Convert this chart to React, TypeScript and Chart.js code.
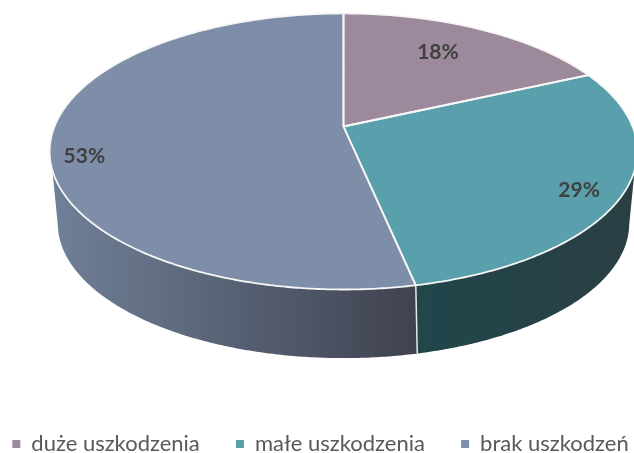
import React, { useEffect, useRef } from "react";
import { Chart, registerables } from "chart.js";

Chart.register(...registerables);

const categories = ["duże uszkodzenia", "małe uszkodzenia", "brak uszkodzeń"];
const shares = [18.2, 28.5, 53.3];
const topColors = ["#9c8a9c", "#5a9fac", "#7e8ea8"];
const wallLeftColors = ["#5a4f5a", "#21464b", "#6f7f97"];
const wallRightColors = ["#5a4f5a", "#2a3f44", "#3f424f"];
const labelRadii = [0.72, 0.85, 0.89];
const labelShiftX = [-7, 0, 1];
const labelShiftY = [-1, 9, 17];
const legendGap = "     ";

const DEG = Math.PI / 180;
const K = 0.181;
const BOTTOM_TWIST = 0.6 * DEG;
type Disc = { cx: number; cy: number; X: number; A: number };
const TOP: Disc = { cx: 343.5, cy: 126.5, X: 289, A: 133.5 };
const BOTTOM: Disc = { cx: 343.5, cy: 199, X: 281, A: 130.3 };

function project(d: Disc, theta: number, r = 1) {
  const u = Math.sin(theta) * r;
  const v = -Math.cos(theta) * r;
  const den = 1 - K * v;
  return { x: d.cx + (d.X * u) / den, y: d.cy + (d.A * v) / den };
}

function trace(ctx: CanvasRenderingContext2D, d: Disc, a: number, b: number, first: boolean) {
  const steps = Math.max(2, Math.ceil(Math.abs(b - a) / (0.5 * DEG)));
  for (let i = 0; i <= steps; i++) {
    const p = project(d, a + ((b - a) * i) / steps);
    if (i === 0 && first) ctx.moveTo(p.x, p.y);
    else ctx.lineTo(p.x, p.y);
  }
}

const pie3d = {
  id: "pie3d",
  beforeDatasetsDraw(chart: any) {
    const ctx: CanvasRenderingContext2D = chart.ctx;
    const arcs = chart.getDatasetMeta(0).data;
    const angles = arcs.map((a: any) => [a.startAngle + Math.PI / 2, a.endAngle + Math.PI / 2]);

    ctx.save();
    angles.forEach(([s, e]: number[], i: number) => {
      const ts = Math.max(s, 108 * DEG);
      const te = Math.min(e, 252 * DEG);
      if (te <= ts) return;
      const bs = Math.max(s - BOTTOM_TWIST, 101 * DEG);
      const be = e >= 259 * DEG ? 259 * DEG : e - BOTTOM_TWIST;
      ctx.beginPath();
      trace(ctx, TOP, ts, te, true);
      trace(ctx, BOTTOM, be, bs, false);
      ctx.closePath();
      const pa = project(BOTTOM, bs);
      const pb = project(BOTTOM, be);
      const g = ctx.createLinearGradient(Math.min(pa.x, pb.x), 0, Math.max(pa.x, pb.x), 0);
      g.addColorStop(0, wallLeftColors[i]);
      g.addColorStop(1, wallRightColors[i]);
      ctx.fillStyle = g;
      ctx.fill();
    });

    // dividing line on the wall
    angles.forEach(([s]: number[]) => {
      if (s > 108 * DEG && s < 252 * DEG) {
        const a = project(TOP, s);
        const b = project(BOTTOM, s - BOTTOM_TWIST);
        ctx.beginPath();
        ctx.moveTo(a.x, a.y);
        ctx.lineTo(b.x, b.y);
        ctx.strokeStyle = "#e8e8e8";
        ctx.lineWidth = 1.5;
        ctx.stroke();
      }
    });

    angles.forEach(([s, e]: number[], i: number) => {
      ctx.beginPath();
      ctx.moveTo(TOP.cx, TOP.cy);
      trace(ctx, TOP, s, e, false);
      ctx.closePath();
      ctx.fillStyle = topColors[i];
      ctx.fill();
    });
    angles.forEach(([s, e]: number[]) => {
      ctx.beginPath();
      ctx.moveTo(TOP.cx, TOP.cy);
      trace(ctx, TOP, s, e, false);
      ctx.closePath();
      ctx.strokeStyle = "#f6f6f6";
      ctx.lineWidth = 1.8;
      ctx.lineJoin = "round";
      ctx.stroke();
    });

    ctx.font = "bold 21px Lato";
    ctx.fillStyle = "#404040";
    ctx.textAlign = "center";
    ctx.textBaseline = "middle";
    angles.forEach(([s, e]: number[], i: number) => {
      const p = project(TOP, (s + e) / 2, labelRadii[i]);
      ctx.fillText(`${Math.round(shares[i])}%`, p.x + labelShiftX[i], p.y + labelShiftY[i]);
    });
    ctx.restore();
    return false;
  },
};

export default function App() {
  const ref = useRef<HTMLCanvasElement>(null);
  useEffect(() => {
    document.body.style.margin = "0";
    const chart = new Chart(ref.current!, {
      type: "pie",
      data: {
        labels: categories.map((c, i) => (i < categories.length - 1 ? c + legendGap : c)),
        datasets: [{ data: shares, backgroundColor: topColors, borderWidth: 0 }],
      },
      options: {
        animation: false,
        responsive: false,
        layout: { padding: { bottom: -12, left: 1, right: -6 } },
        plugins: {
          tooltip: { enabled: false },
          legend: {
            position: "bottom",
            labels: {
              boxWidth: 8,
              boxHeight: 8,
              padding: 8,
              color: "#595959",
              font: { family: "Lato", size: 22 },
            },
          },
        },
      },
      plugins: [pie3d],
    } as any);
    return () => chart.destroy();
  }, []);
  return <canvas ref={ref} width={634} height={453} style={{ display: "block" }} />;
}
